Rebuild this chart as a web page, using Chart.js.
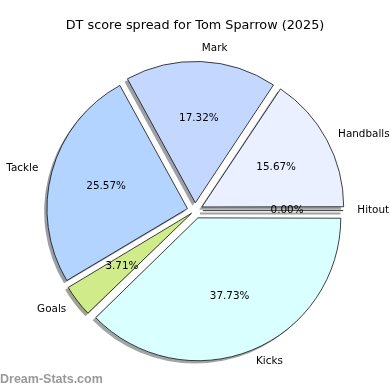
<!DOCTYPE html>
<html>
<head>
<meta charset="utf-8">
<script src="https://cdn.jsdelivr.net/npm/chart.js@4/dist/chart.umd.min.js"></script>
<style>
  html, body { margin: 0; padding: 0; background: #fff; }
  canvas { display: block; }
</style>
</head>
<body>
<canvas id="pieChart" width="390" height="390"></canvas>
<script>
// values as shown on the slices (percent of DT score)
const categories = ['Handballs', 'Mark', 'Tackle', 'Goals', 'Kicks', 'Hitout'];
const shares = [15.67, 17.32, 25.57, 3.71, 37.73, 0.00];
const sliceColours = ['#eaf0ff', '#c4d8ff', '#b3d4ff', '#d0ec8a', '#d9ffff', '#ffe0e0'];

const FONT = 'DejaVu Sans';
const EXPLODE = 31.2;          // chart.js moves a slice by offset / 4
// thin slices also grow in chart.js, so Goals gets pulled out a bit less
const sliceExplode = [EXPLODE, EXPLODE, EXPLODE, 17.6, EXPLODE, EXPLODE];
const SHADOW_DX = -2.8, SHADOW_DY = 2.8;

// chart.js always goes clockwise, the original went anti-clockwise from 3 o'clock
const order = categories.map((_, i) => i).reverse();

function shade(hex) {
  const n = parseInt(hex.slice(1), 16);
  const r = (n >> 16) & 255, g = (n >> 8) & 255, b = n & 255;
  return `rgba(${Math.round(r * 0.3)}, ${Math.round(g * 0.3)}, ${Math.round(b * 0.3)}, 0.5)`;
}

function arcGeom(arc) {
  const p = arc.getProps(['x', 'y', 'startAngle', 'endAngle', 'outerRadius', 'circumference']);
  const off = (arc.options.offset || 0) / 4;
  const mid = (p.startAngle + p.endAngle) / 2;
  const fix = 1 - Math.sin(Math.min(Math.PI, p.circumference));
  return {
    x: p.x, y: p.y,
    cx: p.x + Math.cos(mid) * off,
    cy: p.y + Math.sin(mid) * off,
    r: p.outerRadius,
    rDrawn: p.outerRadius + off * fix,
    start: p.startAngle,
    end: p.endAngle,
    mid: mid,
    circ: p.circumference
  };
}

const pieExtras = {
  id: 'pieExtras',
  beforeDatasetsDraw(chart) {
    const ctx = chart.ctx;
    chart.getDatasetMeta(0).data.forEach(arc => {
      const g = arcGeom(arc);
      const sx = g.cx + SHADOW_DX, sy = g.cy + SHADOW_DY;
      ctx.save();
      ctx.fillStyle = shade(arc.options.backgroundColor);
      ctx.strokeStyle = ctx.fillStyle;
      ctx.lineWidth = 1;
      ctx.beginPath();
      ctx.moveTo(sx, sy);
      if (g.circ > 0) {
        ctx.arc(sx, sy, g.rDrawn, g.start, g.end);
        ctx.closePath();
        ctx.fill();
      } else {
        ctx.lineTo(sx + Math.cos(g.mid) * g.r, sy + Math.sin(g.mid) * g.r);
        ctx.lineWidth = 2;
        ctx.stroke();
      }
      ctx.restore();
    });
  },
  afterDatasetsDraw(chart) {
    const ctx = chart.ctx;
    const meta = chart.getDatasetMeta(0);
    const ds = chart.data.datasets[0];
    const total = ds.data.reduce((a, b) => a + b, 0);
    ctx.save();
    meta.data.forEach((arc, i) => {
      const g = arcGeom(arc);
      // empty slice still gets its edge line
      if (g.circ === 0) {
        ctx.strokeStyle = '#000';
        ctx.lineWidth = 0.8;
        ctx.beginPath();
        ctx.moveTo(g.cx, g.cy);
        ctx.lineTo(g.cx + Math.cos(g.mid) * g.r, g.cy + Math.sin(g.mid) * g.r);
        ctx.stroke();
      }
      const cos = Math.cos(g.mid), sin = Math.sin(g.mid);
      // text sits around the nominally exploded centre
      const lx = g.x + cos * EXPLODE / 4, ly = g.y + sin * EXPLODE / 4;
      ctx.fillStyle = '#000';
      ctx.font = `10.4px "${FONT}"`;
      ctx.textBaseline = 'middle';
      ctx.textAlign = cos >= 0 ? 'left' : 'right';
      ctx.fillText(chart.data.labels[i], lx + cos * g.r * 1.1, ly + sin * g.r * 1.1);
      ctx.textAlign = 'center';
      const pct = (ds.data[i] / total * 100).toFixed(2) + '%';
      ctx.fillText(pct, lx + cos * g.r * 0.6, ly + sin * g.r * 0.6);
    });
    ctx.restore();
  },
  afterDraw(chart) {
    const ctx = chart.ctx;
    ctx.save();
    ctx.fillStyle = '#999';
    ctx.font = 'bold 12.5px "Liberation Sans"';
    ctx.textBaseline = 'middle';
    ctx.textAlign = 'left';
    ctx.fillText('Dream-Stats.com', 0, 380);
    ctx.restore();
  }
};

const ctx = document.getElementById('pieChart').getContext('2d');
new Chart(ctx, {
  type: 'pie',
  data: {
    labels: order.map(i => categories[i]),
    datasets: [{
      data: order.map(i => shares[i]),
      backgroundColor: order.map(i => sliceColours[i]),
      borderColor: '#111',
      borderWidth: 0.8,
      borderJoinStyle: 'miter',
      offset: order.map(i => sliceExplode[i])
    }]
  },
  options: {
    responsive: false,
    animation: false,
    events: [],
    rotation: 90,
    radius: 140.5,
    layout: { padding: { top: 0, bottom: 2.4, left: 0, right: 0 } },
    plugins: {
      legend: { display: false },
      tooltip: { enabled: false },
      title: {
        display: true,
        text: 'DT score spread for Tom Sparrow (2025)',
        color: '#000',
        font: { family: FONT, size: 12.8, weight: 'normal', lineHeight: 1.2 },
        padding: { top: 18.3, bottom: 0 }
      }
    }
  },
  plugins: [pieExtras]
});
</script>
</body>
</html>
